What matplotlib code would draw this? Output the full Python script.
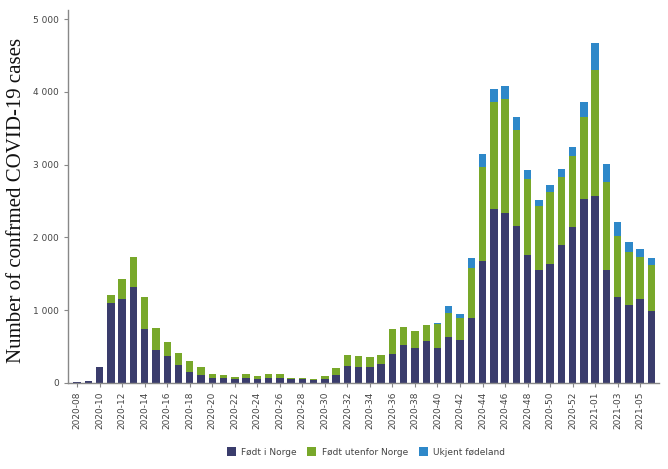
import matplotlib.pyplot as plt
import numpy as np

# week categories (2020 had a week 53)
weeks = [f"2020-{w:02d}" for w in range(8, 54)] + [f"2021-{w:02d}" for w in range(1, 7)]

fodt_i_norge = [
    10, 25, 210, 1100, 1150, 1310, 740, 446, 367, 243,
    152, 106, 69, 69, 46, 69, 55, 69, 64, 50,
    45, 40, 48, 100, 230, 212, 215, 260, 397, 515,
    475, 570, 473, 629, 583, 896, 1677, 2389, 2329, 2159,
    1759, 1548, 1640, 1893, 2136, 2526, 2572, 1548, 1181, 1070,
    1148, 988,
]
fodt_utenfor_norge = [
    2, 5, 5, 108, 283, 413, 445, 303, 198, 170,
    147, 110, 46, 36, 39, 46, 35, 46, 51, 20,
    20, 15, 49, 103, 145, 160, 143, 120, 343, 250,
    242, 218, 331, 336, 313, 689, 1286, 1469, 1575, 1318,
    1043, 887, 978, 941, 988, 1135, 1732, 1208, 840, 731,
    584, 633,
]
ukjent_fodeland = [
    0, 0, 0, 0, 0, 0, 0, 0, 0, 0,
    0, 0, 0, 0, 0, 0, 0, 0, 0, 0,
    0, 0, 0, 0, 0, 0, 0, 0, 0, 0,
    0, 0, 14, 92, 46, 124, 184, 184, 184, 175,
    124, 82, 101, 106, 114, 197, 368, 253, 193, 137,
    105, 92,
]

series = [
    ("Født i Norge", fodt_i_norge, "#3a3c6c"),
    ("Født utenfor Norge", fodt_utenfor_norge, "#78a82a"),
    ("Ukjent fødeland", ukjent_fodeland, "#2e88c9"),
]

fig = plt.figure(figsize=(6.68, 4.69), dpi=100)
ax = fig.add_axes([0.102, 0.184, 0.885, 0.795])

x = np.arange(len(weeks))
bottom = np.zeros(len(weeks))
for label, values, color in series:
    vals = np.array(values, dtype=float)
    ax.bar(x, vals, width=0.66, bottom=bottom, color=color, label=label, linewidth=0)
    bottom += vals

ax.set_xlim(-0.8, len(weeks) - 0.3)
ax.set_ylim(0, 5130)
ax.set_yticks(np.arange(0, 5001, 1000))
ax.set_yticklabels([f"{v:,}".replace(",", " ") for v in range(0, 5001, 1000)])
ax.set_xticks(x[::2])
ax.set_xticklabels(weeks[::2], rotation=90)

for side in ("top", "right"):
    ax.spines[side].set_visible(False)
for side in ("left", "bottom"):
    ax.spines[side].set_color("#888888")
    ax.spines[side].set_linewidth(1.0)
ax.tick_params(axis="both", colors="#888888", labelcolor="#444444", labelsize=6.5,
               length=3, width=0.8)

ax.set_ylabel("Number of confrmed COVID-19 cases", family="Liberation Serif",
              fontsize=15, color="#111111")
ax.yaxis.set_label_coords(-0.072, 0.49)

fig.legend(loc="center", bbox_to_anchor=(366 / 668, 1 - 452 / 469), ncol=3,
           frameon=False, fontsize=6.5, handlelength=1.0, handleheight=1.0,
           columnspacing=1.2, handletextpad=0.6, labelcolor="#444444")

fig.savefig("out.png", dpi=100)
